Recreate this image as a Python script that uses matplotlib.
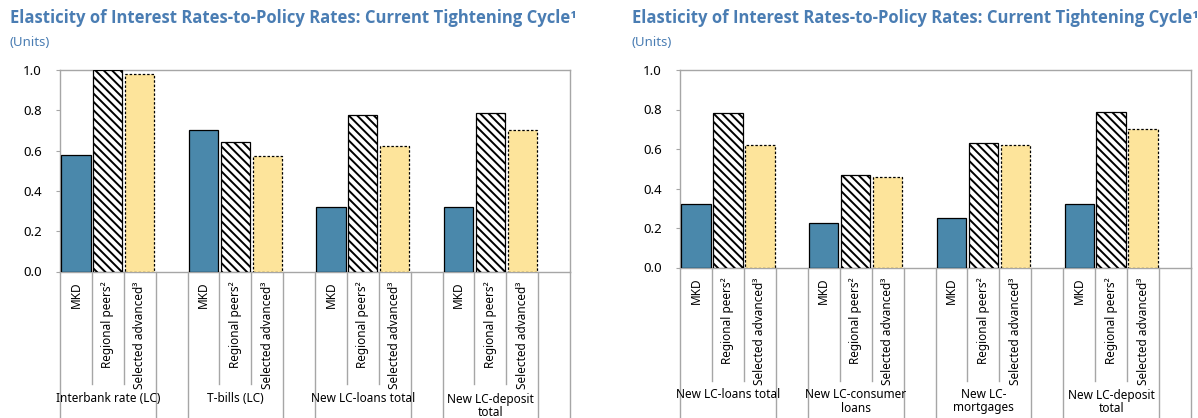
import matplotlib
matplotlib.use("Agg")
import matplotlib.pyplot as plt
from matplotlib.lines import Line2D

plt.rcParams['font.family'] = ['Noto Sans', 'DejaVu Sans']
plt.rcParams['hatch.linewidth'] = 1.4

# ---------------- data ----------------
series = ["MKD", "Regional peers\u00b2", "Selected advanced\u00b3"]

left_categories = ["Interbank rate (LC)", "T-bills (LC)", "New LC-loans total", "New LC-deposit\ntotal"]
left_mkd = [0.58, 0.70, 0.32, 0.32]
left_regional = [1.00, 0.645, 0.775, 0.785]
left_selected = [0.98, 0.575, 0.625, 0.70]

right_categories = ["New LC-loans total", "New LC-consumer\nloans", "New LC-\nmortgages", "New LC-deposit\ntotal"]
right_mkd = [0.32, 0.225, 0.25, 0.32]
right_regional = [0.78, 0.47, 0.63, 0.785]
right_selected = [0.62, 0.46, 0.62, 0.70]

yticks = [0.0, 0.2, 0.4, 0.6, 0.8, 1.0]
title = "Elasticity of Interest Rates-to-Policy Rates: Current Tightening Cycle\u00b9"
subtitle = "(Units)"

# ---------------- style ----------------
W, H = 1198, 418
BLUE = "#4a88ab"
YELLOW = "#fde49b"
TITLE_C = "#4a7db3"
GRID_C = "#a6a6a6"

fig = plt.figure(figsize=(W / 100, H / 100), dpi=100)


def px_axes(x0, y_top, x1, y_bot):
    return fig.add_axes([x0 / W, 1 - y_bot / H, (x1 - x0) / W, (y_bot - y_top) / H])


def draw_panel(ax, cats, mkd, reg, sel, ax_h_px):
    n = len(cats)
    bw = 0.92
    xs_m = [4 * g + 0 for g in range(n)]
    xs_r = [4 * g + 1 for g in range(n)]
    xs_s = [4 * g + 2 for g in range(n)]
    ax.bar(xs_m, mkd, width=bw, color=BLUE, edgecolor="black", linewidth=0.9, zorder=3)
    ax.bar(xs_r, reg, width=bw, color="white", edgecolor="black", hatch="\\\\\\\\",
           linewidth=0.9, zorder=3)
    ax.bar(xs_s, sel, width=bw, color=YELLOW, edgecolor="black", linewidth=0.9,
           linestyle=(0, (2, 1.5)), zorder=3)

    ax.set_xlim(-0.5, 4 * n - 1 + 0.5)
    ax.set_ylim(0, 1.0)
    ax.set_yticks(yticks)
    ax.set_yticklabels([f"{v:.1f}" for v in yticks], fontsize=9.5)
    ax.tick_params(axis="y", length=3, color=GRID_C, pad=10)
    ax.set_xticks([])
    for sp in ax.spines.values():
        sp.set_color(GRID_C)
        sp.set_linewidth(1.0)

    tr = ax.get_xaxis_transform()

    def fy(px_below):
        return -px_below / ax_h_px

    # separators
    for k in range(4 * n + 1):
        xb = k - 0.5
        full = (k % 4 in (0, 3)) or k == 4 * n
        end = fy(200) if full else fy(113)
        ax.add_line(Line2D([xb, xb], [0, end], transform=tr, color=GRID_C,
                           linewidth=1.0, clip_on=False))

    # series labels
    for g in range(n):
        for s, lab in enumerate(series):
            ax.text(4 * g + s, fy(10), lab, transform=tr, rotation=90,
                    ha="center", va="top", fontsize=8.5, clip_on=False)
        ax.text(4 * g + 1, fy(121), cats[g], transform=tr, ha="center", va="top",
                fontsize=8.5, linespacing=1.0, clip_on=False)


ax1 = px_axes(60, 70, 570, 271.5)
draw_panel(ax1, left_categories, left_mkd, left_regional, left_selected, 201.5)
ax2 = px_axes(680, 70, 1191, 267.5)
draw_panel(ax2, right_categories, right_mkd, right_regional, right_selected, 197.5)

for x0 in (10, 632):
    fig.text(x0 / W, 1 - 18 / H, title, fontsize=12.0, fontweight="bold", color=TITLE_C,
             ha="left", va="center", family=["Open Sans", "DejaVu Sans"])
    fig.text(x0 / W, 1 - 43 / H, subtitle, fontsize=9.5, color=TITLE_C,
             ha="left", va="center")

fig.savefig("out.png", dpi=100)
